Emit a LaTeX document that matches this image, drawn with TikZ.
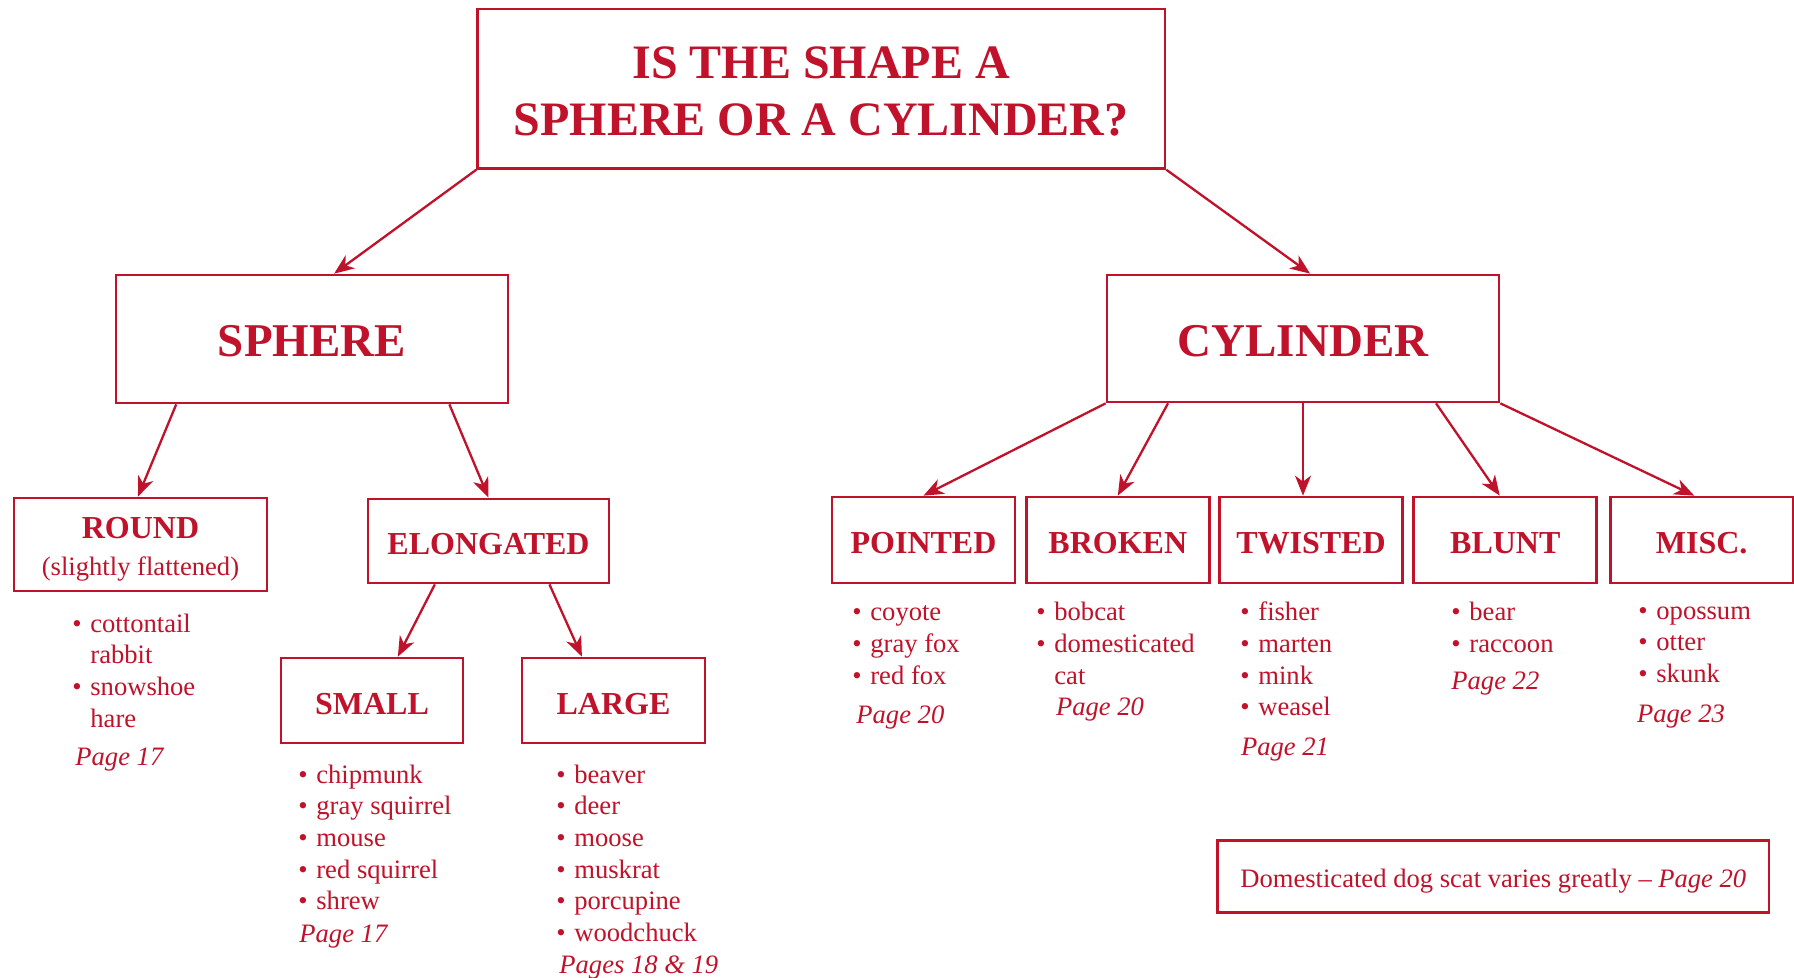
\documentclass[tikz,border=0pt]{standalone}
\usepackage{fontspec}
\setmainfont{Liberation Serif}
\usetikzlibrary{arrows.meta,calc}
\definecolor{sred}{RGB}{192,18,42}
\newlength\bw \setlength\bw{9pt}
\newcommand\bl{\makebox[\bw][l]{\textbullet}}
\newcommand\ind{\hspace*{\bw}}
\newcommand\dn[2]{\raisebox{-#1}[\height][\depth]{#2}}
\begin{document}
\begin{tikzpicture}[x=0.5pt,y=-0.5pt,color=sred,
 box/.style={draw=sred,line width=1.35pt,inner sep=0pt,rectangle,align=center},
 hA/.style={font=\fontsize{24}{28.5}\selectfont\bfseries},
 hB/.style={font=\fontsize{23.5}{28}\selectfont\bfseries},
 hC/.style={font=\fontsize{16}{18.5}\selectfont\bfseries},
 lvl/.style={box,hC,minimum width=91.5pt,minimum height=43pt},
 lst/.style={anchor=base west,inner sep=0pt,font=\fontsize{13.3}{15.85}\selectfont},
 pg/.style={anchor=base west,inner sep=0pt,font=\fontsize{13.3}{15.85}\selectfont\itshape},
 arr/.style={draw=sred,line width=1.15pt,-{Stealth[length=10pt,width=8pt,inset=3pt]}}]
\useasboundingbox[fill=white] (0,0) rectangle (1794,978);

\node[box,hA,minimum width=343.7pt,minimum height=79.7pt] (top) at (821.3,88.7) {\dn{1.4pt}{IS THE SHAPE A}\\\dn{1.4pt}{SPHERE OR A CYLINDER?}};
\node[box,hB,minimum width=196pt,minimum height=64pt] (sph) at (312,339) {\dn{1.2pt}{SPHERE}};
\node[box,hB,minimum width=196pt,minimum height=63.5pt] (cyl) at (1303,338.5) {\dn{1.2pt}{CYLINDER}};

\node[box,hC,minimum width=126.5pt,minimum height=46.5pt] (rnd) at (140.5,544.5) {\dn{2.2pt}{ROUND}\\{\fontsize{13.3}{18.5}\selectfont\mdseries\dn{2.6pt}{(slightly flattened)}}};
\node[box,hC,minimum width=120.5pt,minimum height=42pt] (elo) at (488.5,541) {\dn{1.6pt}{ELONGATED}};
\node[box,hC,minimum width=91pt,minimum height=42.5pt] (sml) at (372,700.5) {\dn{1.6pt}{SMALL}};
\node[box,hC,minimum width=91.5pt,minimum height=42.5pt] (lrg) at (613.5,700.5) {\dn{1.6pt}{LARGE}};

\node[lvl] (pnt) at (923.5,540) {\dn{1.6pt}{POINTED}};
\node[lvl] (brk) at (1117.8,540) {\dn{1.6pt}{BROKEN}};
\node[lvl] (twi) at (1311,540) {\dn{1.6pt}{TWISTED}};
\node[lvl] (blu) at (1505.3,540) {\dn{1.6pt}{BLUNT}};
\node[lvl] (msc) at (1701.7,540) {\dn{1.6pt}{MISC.}};

\node[box,minimum width=275.7pt,minimum height=36pt,font=\fontsize{13.3}{16}\selectfont] (dog) at (1493.3,876.7) {\dn{2.2pt}{Domesticated dog scat varies greatly – \textit{Page 20}}};

% arrows
\draw[arr] (top.south west) -- ($(sph.north west)!0.556!(sph.north east)$);
\draw[arr] (top.south east) -- ($(cyl.north west)!0.518!(cyl.north east)$);
\draw[arr] ($(sph.south west)!0.156!(sph.south east)$) -- ($(rnd.north west)!0.49!(rnd.north east)$);
\draw[arr] ($(sph.south west)!0.848!(sph.south east)$) -- (elo.north);
\draw[arr] ($(elo.south west)!0.28!(elo.south east)$) -- ($(sml.north west)!0.64!(sml.north east)$);
\draw[arr] ($(elo.south west)!0.75!(elo.south east)$) -- ($(lrg.north west)!0.33!(lrg.north east)$);
\draw[arr] (cyl.south west) -- (pnt.north);
\draw[arr] ($(cyl.south west)!0.158!(cyl.south east)$) -- (brk.north);
\draw[arr] (cyl.south) -- (cyl.south |- twi.north);
\draw[arr] ($(cyl.south west)!0.837!(cyl.south east)$) -- ($(blu.north west)!0.47!(blu.north east)$);
\draw[arr] (cyl.south east) -- ($(msc.north west)!0.46!(msc.north east)$);

% lists
\node[lst] (lrnd) at (72,632) {\begin{tabular}[t]{@{}l@{}}\bl cottontail\\\ind rabbit\\\bl snowshoe\\\ind hare\end{tabular}};
\node[pg] (prnd) at (75,765) {Page 17};

\node[lst] (lsml) at (298,783) {\begin{tabular}[t]{@{}l@{}}\bl chipmunk\\\bl gray squirrel\\\bl mouse\\\bl red squirrel\\\bl shrew\end{tabular}};
\node[pg] (psml) at (299,942) {Page 17};

\node[lst] (llrg) at (556,783) {\begin{tabular}[t]{@{}l@{}}\bl beaver\\\bl deer\\\bl moose\\\bl muskrat\\\bl porcupine\\\bl woodchuck\end{tabular}};
\node[pg] (plrg) at (559,973) {Pages 18 \& 19};

\node[lst] (lpnt) at (852,620.7) {\begin{tabular}[t]{@{}l@{}}\bl coyote\\\bl gray fox\\\bl red fox\end{tabular}};
\node[pg] (ppnt) at (856,723) {Page 20};

\node[lst] (lbrk) at (1036,620.7) {\begin{tabular}[t]{@{}l@{}}\bl bobcat\\\bl domesticated\\\ind cat\end{tabular}};
\node[pg] (pbrk) at (1055.7,715) {Page 20};

\node[lst] (ltwi) at (1240,620.7) {\begin{tabular}[t]{@{}l@{}}\bl fisher\\\bl marten\\\bl mink\\\bl weasel\end{tabular}};
\node[pg] (ptwi) at (1240.7,755) {Page 21};

\node[lst] (lblu) at (1451,620.7) {\begin{tabular}[t]{@{}l@{}}\bl bear\\\bl raccoon\end{tabular}};
\node[pg] (pblu) at (1451,689) {Page 22};

\node[lst] (lmsc) at (1638,619) {\begin{tabular}[t]{@{}l@{}}\bl opossum\\\bl otter\\\bl skunk\end{tabular}};
\node[pg] (pmsc) at (1636.7,722) {Page 23};
\end{tikzpicture}
\end{document}
